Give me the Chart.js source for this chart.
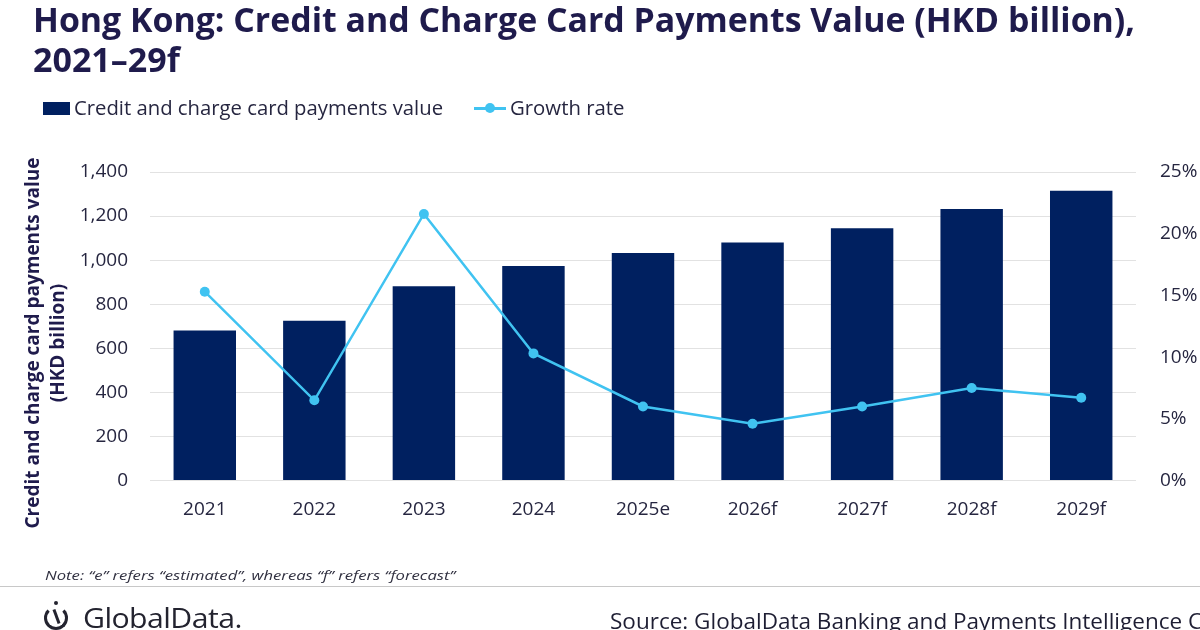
<!DOCTYPE html>
<html>
<head>
<meta charset="utf-8">
<script src="https://cdn.jsdelivr.net/npm/chart.js@4"></script>
<style>
  html, body { margin:0; padding:0; background:#fff; }
  body { width:1200px; height:630px; overflow:hidden; position:relative; font-family:"Open Sans", sans-serif; }
  #wrap { position:absolute; left:0; top:0; width:1200px; height:630px; }
  .t { position:absolute; white-space:nowrap; transform-origin:left center; }
  #title { left:33px; top:-1px; font-weight:700; font-size:34px; line-height:40px; color:#1F1B4C; }
  #title div { transform-origin:left center; }
  .leg { font-size:20px; color:#262640; line-height:24px; }
  #ytitle { position:absolute; left:-155.5px; top:318px; width:400px; height:50px; line-height:25px; text-align:center;
            font-weight:700; font-size:19px; color:#1F1B4C; transform:rotate(-90deg); transform-origin:center center; white-space:nowrap; }
  #note { left:45px; top:566px; font-style:italic; font-size:13px; line-height:18px; color:#303040; }
  #hr { position:absolute; left:0; top:586px; width:1200px; height:1px; background:#C8C8C8; }
  #logo { left:83px; top:601px; font-size:27px; line-height:34px; color:#23232F; font-weight:400; letter-spacing:-0.5px; }
  #source { left:610px; top:606px; font-size:22px; line-height:28px; color:#1E1E33; }
</style>
</head>
<body>
<div id="wrap"><canvas id="c" width="1200" height="630"></canvas></div>

<div id="title" class="t"><div id="t1">Hong Kong: Credit and Charge Card Payments Value (HKD billion),</div><div id="t2">2021–29f</div></div>

<div style="position:absolute;left:43px;top:102px;width:27px;height:13px;background:#002060;"></div>
<div id="leg1" class="t leg" style="left:74px;top:96px;">Credit and charge card payments value</div>
<div style="position:absolute;left:474px;top:107px;width:32px;height:2.5px;background:#40C3F1;"></div>
<div style="position:absolute;left:485px;top:103px;width:10px;height:10px;border-radius:50%;background:#40C3F1;"></div>
<div id="leg2" class="t leg" style="left:510px;top:96px;">Growth rate</div>

<div id="ytitle"><div>Credit and charge card payments value</div><div>(HKD billion)</div></div>

<div id="note" class="t">Note: “e” refers “estimated”, whereas “f” refers “forecast”</div>
<div id="hr"></div>

<div style="position:absolute;left:44px;top:606px;width:24px;height:24px;border:3px solid #23232F;border-radius:50%;border-top-color:transparent;box-sizing:border-box;"></div>
<div style="position:absolute;left:54px;top:601px;width:4px;height:4px;border-radius:50%;background:#23232F;"></div>
<div style="position:absolute;left:55px;top:609px;width:3px;height:15px;background:#23232F;transform:rotate(-20deg);"></div>
<div id="logo" class="t">GlobalData.</div>
<div id="source" class="t">Source: GlobalData Banking and Payments Intelligence Center</div>

<script>
const categories = ["2021", "2022", "2023", "2024", "2025e", "2026f", "2027f", "2028f", "2029f"];
const paymentsValue = [681, 725, 881, 973, 1032, 1080, 1145, 1232, 1315];
const growthRate = [15.3, 6.5, 21.6, 10.3, 6.0, 4.6, 6.0, 7.5, 6.7];
const leftTicks = [0, 200, 400, 600, 800, 1000, 1200, 1400];
const rightTicks = [0, 5, 10, 15, 20, 25];

function fitWidth(id, w) {
  const el = document.getElementById(id);
  const cur = el.scrollWidth || el.getBoundingClientRect().width;
  el.style.transform = 'scaleX(' + (w / cur) + ')';
}
function fitInline(id, w) {
  const el = document.getElementById(id);
  el.style.display = 'inline-block';
  const cur = el.getBoundingClientRect().width;
  el.style.transform = 'scaleX(' + (w / cur) + ')';
  el.style.display = 'block';
  el.style.width = cur + 'px';
}
fitInline('t1', 1102);
fitWidth('leg1', 369);
fitWidth('leg2', 114);
fitWidth('note', 410);
fitWidth('logo', 159);
// "Source: ... Intelligence " ends where the clipped "C" begins (~x 1188)
(function () {
  const el = document.getElementById('source');
  const probe = document.createElement('span');
  probe.textContent = 'Source: GlobalData Banking and Payments Intelligence ';
  probe.style.cssText = 'position:absolute;visibility:hidden;white-space:pre;font-size:22px;font-family:"Open Sans"';
  document.body.appendChild(probe);
  const w = probe.getBoundingClientRect().width;
  probe.remove();
  el.style.transform = 'scaleX(' + (578 / w) + ')';
})();

const textColor = '#262640';
const tickFont = { family: 'Open Sans', size: 19 };

new Chart(document.getElementById('c'), {
  data: {
    labels: categories,
    datasets: [
      {
        type: 'line',
        label: 'Growth rate',
        data: growthRate,
        yAxisID: 'y1',
        borderColor: '#40C3F1',
        backgroundColor: '#40C3F1',
        borderWidth: 2.5,
        pointRadius: 5,
        pointHoverRadius: 5,
        pointBorderWidth: 0,
        tension: 0,
        order: 0
      },
      {
        type: 'bar',
        label: 'Credit and charge card payments value',
        data: paymentsValue,
        yAxisID: 'y',
        backgroundColor: '#002060',
        borderWidth: 0,
        barPercentage: 0.57,
        categoryPercentage: 1.0,
        order: 1
      }
    ]
  },
  options: {
    responsive: false,
    animation: false,
    devicePixelRatio: 1,
    layout: { padding: { top: 172, bottom: 109.5, left: 0, right: 0 } },
    plugins: { legend: { display: false }, tooltip: { enabled: false } },
    scales: {
      x: {
        grid: { display: false, drawTicks: false },
        border: { display: false },
        ticks: { color: textColor, font: tickFont, padding: 18, maxRotation: 0 },
        afterFit: (s) => { s.height = 40; }
      },
      y: {
        position: 'left',
        min: 0, max: 1400,
        afterBuildTicks: (s) => { s.ticks = leftTicks.map(v => ({ value: v })); },
        ticks: {
          color: textColor, font: tickFont, padding: 22,
          callback: (v) => v.toLocaleString('en-US')
        },
        grid: { color: '#E2E2E2', lineWidth: 1, drawTicks: false },
        border: { display: false },
        afterFit: (s) => { s.width = 150; }
      },
      y1: {
        position: 'right',
        min: 0, max: 25,
        afterBuildTicks: (s) => { s.ticks = rightTicks.map(v => ({ value: v })); },
        ticks: { color: textColor, font: tickFont, padding: 24, callback: (v) => v + '%' },
        grid: { display: false, drawTicks: false },
        border: { display: false },
        afterFit: (s) => { s.width = 64; }
      }
    }
  }
});
</script>
</body>
</html>
